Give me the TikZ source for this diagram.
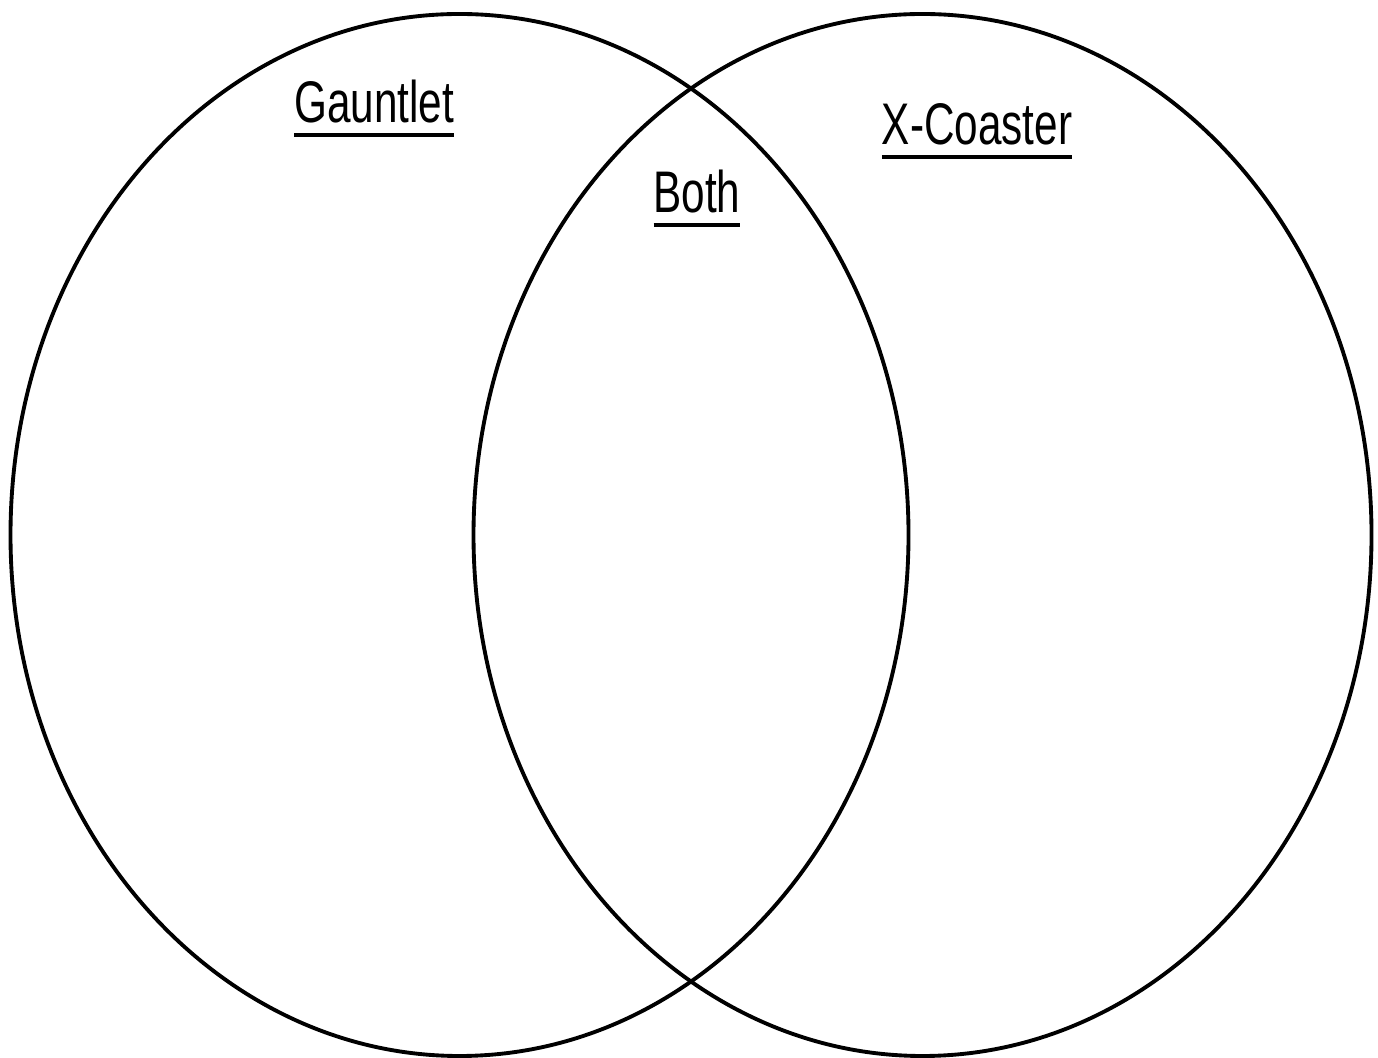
\documentclass[tikz,border=0pt]{standalone}
\usepackage{fontspec}
\usepackage{tikz}
\usetikzlibrary{shapes.geometric}
\newfontfamily\vennfont[FakeStretch=0.72]{Liberation Sans}
% underlined title, rule 1.1pt thick
\newcommand\vennul[1]{\setbox0=\hbox{#1}\vtop{\copy0\kern\dimexpr2.8pt-\dp0\relax\hrule height 1.1pt}}

\tikzset{
  set/.style={draw=black, line width=1.1pt, ellipse, inner sep=0pt,
              minimum width=8.98cm, minimum height=10.42cm},
  title/.style={anchor=base, inner sep=0pt, font=\vennfont\fontsize{16.7}{20}\selectfont}
}

\begin{document}
\begin{tikzpicture}
  \useasboundingbox (0,0) rectangle (13.78,10.57);

  % Gauntlet set
  \node[set] (gauntlet) at (4.595,5.22) {};

  % X-Coaster set
  \node[set] (xcoaster) at (9.225,5.22) {};

  % Labels
  \node[title] (gauntletlbl) at (3.74,9.34) {\vennul{Gauntlet}};
  \node[title] (xcoasterlbl) at (9.77,9.12) {\vennul{X-Coaster}};
  \node[title] (bothlbl) at (6.97,8.44) {\vennul{Both}};

\end{tikzpicture}
\end{document}
